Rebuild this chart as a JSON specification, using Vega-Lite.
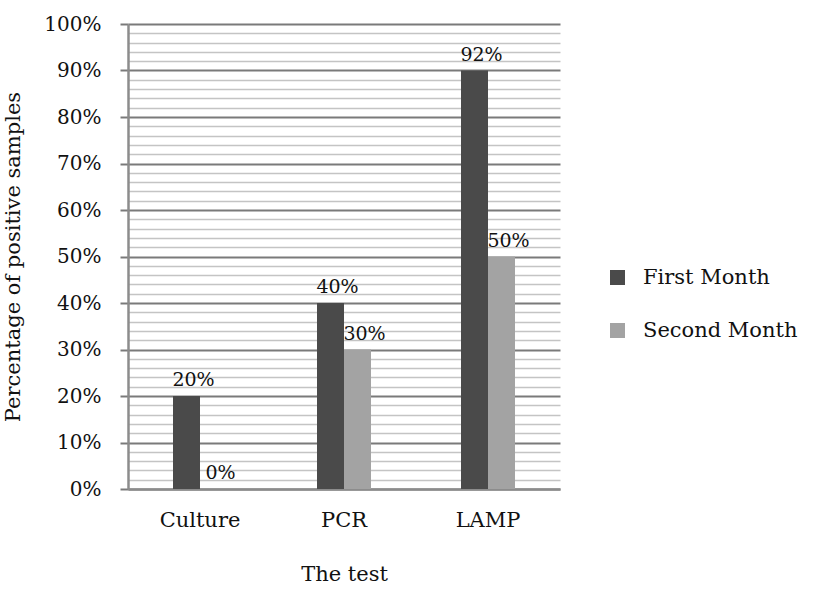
{
  "$schema": "https://vega.github.io/schema/vega-lite/v6.json",
  "width": 432,
  "height": 465,
  "autosize": "none",
  "padding": {"left": 128, "top": 24, "right": 253, "bottom": 114},
  "background": "white",
  "config": {"view": {"stroke": null}, "font": "DejaVu Serif"},
  "data": {
    "values": [
      {"test": "Culture", "month": "First Month", "value": 20, "label": "20%"},
      {"test": "Culture", "month": "Second Month", "value": 0, "label": "0%"},
      {"test": "PCR", "month": "First Month", "value": 40, "label": "40%"},
      {"test": "PCR", "month": "Second Month", "value": 30, "label": "30%"},
      {"test": "LAMP", "month": "First Month", "value": 90, "label": "92%"},
      {"test": "LAMP", "month": "Second Month", "value": 50, "label": "50%"}
    ]
  },
  "encoding": {
    "x": {
      "field": "test", "type": "nominal", "sort": ["Culture", "PCR", "LAMP"],
      "scale": {"paddingInner": 0.625, "paddingOuter": 0.3125},
      "axis": {
        "title": "The test", "labelAngle": 0, "ticks": false, "grid": false,
        "domainColor": "#8c8c8c", "domainWidth": 2.5,
        "labelFont": "DejaVu Serif", "labelFontSize": 21, "labelColor": "#111",
        "labelPadding": 20, "titleFont": "DejaVu Serif", "titleFontSize": 21,
        "titleFontWeight": "normal", "titleColor": "#111", "titlePadding": 33
      }
    },
    "xOffset": {"field": "month", "type": "nominal", "sort": ["First Month", "Second Month"]},
    "y": {
      "field": "value", "type": "quantitative",
      "scale": {"domain": [0, 100], "nice": false},
      "axis": {
        "title": "Percentage of positive samples",
        "values": [0,2,4,6,8,10,12,14,16,18,20,22,24,26,28,30,32,34,36,38,40,42,44,46,48,50,52,54,56,58,60,62,64,66,68,70,72,74,76,78,80,82,84,86,88,90,92,94,96,98,100],
        "labelExpr": "datum.value % 10 === 0 ? datum.value + '%' : ''",
        "grid": true,
        "gridColor": {"condition": {"test": "datum.value % 10 === 0", "value": "#7a7a7a"}, "value": "#c4c4c4"},
        "gridWidth": {"condition": {"test": "datum.value % 10 === 0", "value": 2}, "value": 1.5},
        "tickOpacity": {"condition": {"test": "datum.value % 10 === 0", "value": 1}, "value": 0},
        "tickColor": "#7a7a7a", "tickWidth": 2, "tickSize": 8,
        "domainColor": "#8c8c8c", "domainWidth": 2.5,
        "labelFont": "DejaVu Serif", "labelFontSize": 20, "labelColor": "#111",
        "labelPadding": 19,
        "titleFont": "DejaVu Serif", "titleFontSize": 21, "titleFontWeight": "normal",
        "titleColor": "#111", "titlePadding": 20
      }
    }
  },
  "layer": [
    {
      "mark": {"type": "bar"},
      "encoding": {
        "color": {
          "field": "month", "type": "nominal",
          "scale": {"domain": ["First Month", "Second Month"], "range": ["#4a4a4a", "#a3a3a3"]},
          "legend": {
            "title": null, "orient": "none", "legendX": 479, "legendY": 243,
            "symbolType": "square", "symbolSize": 225, "symbolStrokeWidth": 0,
            "labelFont": "DejaVu Serif", "labelFontSize": 21, "labelColor": "#111",
            "labelOffset": 15, "rowPadding": 31, "labelLimit": 300
          }
        }
      }
    },
    {
      "mark": {"type": "text", "baseline": "alphabetic", "dy": -10, "dx": 7, "font": "DejaVu Serif", "fontSize": 19, "color": "#111"},
      "encoding": {"text": {"field": "label"}}
    }
  ]
}
